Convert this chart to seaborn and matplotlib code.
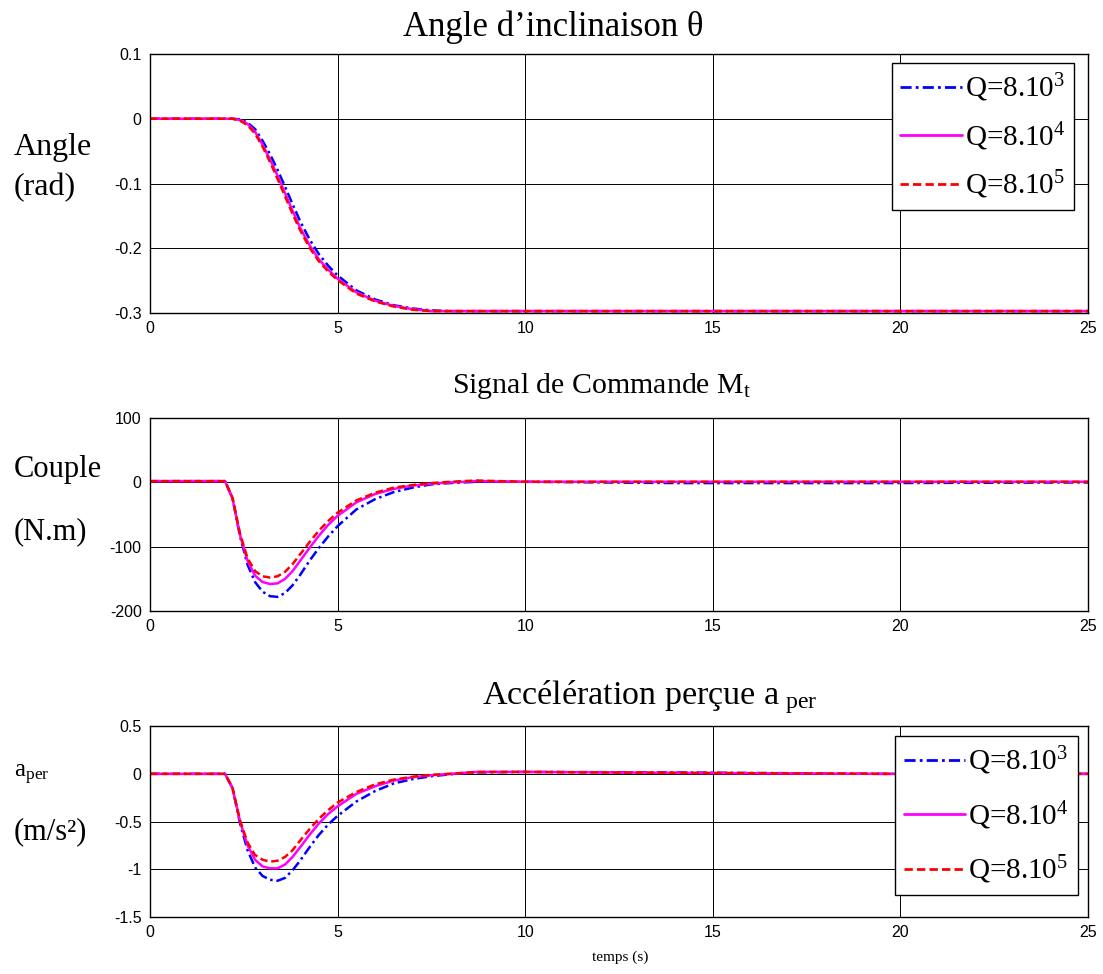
import numpy as np
import pandas as pd
import matplotlib
matplotlib.use("Agg")
import matplotlib.pyplot as plt
import seaborn as sns

# ---------------- data ----------------
t = [0, 2.0, 2.2, 2.4, 2.6, 2.8, 3.0, 3.2, 3.4, 3.6, 3.8, 4.0, 4.25, 4.5, 4.75,
     5.0, 5.5, 6.0, 6.5, 7.0, 7.5, 8.0, 8.7, 10, 14, 19.5, 25]

labels = ["Q=8.10$^{3}$", "Q=8.10$^{4}$", "Q=8.10$^{5}$"]

angle_q3 = [0, 0, 0, -0.001, -0.006, -0.016, -0.034, -0.055, -0.079, -0.105, -0.132, -0.158,
            -0.186, -0.209, -0.227, -0.242, -0.265, -0.279, -0.288, -0.293, -0.296, -0.297,
            -0.297, -0.297, -0.297, -0.297, -0.297]
angle_q4 = [0, 0, 0, -0.002, -0.008, -0.020, -0.040, -0.063, -0.088, -0.115, -0.142, -0.168,
            -0.195, -0.217, -0.233, -0.247, -0.268, -0.281, -0.289, -0.294, -0.297, -0.297,
            -0.297, -0.297, -0.297, -0.297, -0.297]
angle_q5 = [0, 0, 0, -0.003, -0.010, -0.023, -0.043, -0.067, -0.093, -0.120, -0.147, -0.172,
            -0.199, -0.220, -0.236, -0.249, -0.270, -0.282, -0.290, -0.295, -0.297, -0.297,
            -0.297, -0.297, -0.297, -0.297, -0.297]

couple_q3 = [2, 2, -25, -84, -128, -155, -170, -177, -178, -172, -160, -144, -122, -102, -84,
             -68, -42, -26, -15, -8, -3, -1, 1, 1, -1, -1, 0]
couple_q4 = [2, 2, -25, -82, -122, -145, -155, -158, -157, -150, -138, -122, -102, -83, -66,
             -52, -31, -18, -10, -5, -2, 0, 2, 1, 1, 1, 1]
couple_q5 = [2, 2, -24, -80, -118, -138, -146, -148, -146, -139, -127, -112, -93, -75, -60,
             -47, -28, -16, -8, -4, -1, 1, 3, 1, 1, 1, 1]

acc_q3 = [0, 0, -0.15, -0.52, -0.80, -0.98, -1.07, -1.11, -1.12, -1.09, -1.01, -0.91, -0.77,
          -0.64, -0.53, -0.44, -0.29, -0.18, -0.10, -0.055, -0.025, -0.005, 0.015, 0.02,
          0.015, 0, 0]
acc_q4 = [0, 0, -0.15, -0.50, -0.75, -0.90, -0.97, -0.99, -0.99, -0.95, -0.87, -0.77, -0.64,
          -0.52, -0.42, -0.34, -0.21, -0.13, -0.07, -0.035, -0.015, 0.0, 0.02, 0.02, 0.01, 0, 0]
acc_q5 = [0, 0, -0.15, -0.49, -0.72, -0.85, -0.90, -0.92, -0.91, -0.87, -0.80, -0.70, -0.58,
          -0.47, -0.38, -0.30, -0.19, -0.11, -0.06, -0.03, -0.01, 0.0, 0.02, 0.02, 0.01, 0, 0]

x_ticks = [0, 5, 10, 15, 20, 25]
y1_ticks = [-0.3, -0.2, -0.1, 0, 0.1]
y2_ticks = [-200, -100, 0, 100]
y3_ticks = [-1.5, -1, -0.5, 0, 0.5]

# ---------------- style ----------------
sns.set_theme(style="white")
plt.rcParams["font.family"] = ["Liberation Serif", "DejaVu Serif"]
plt.rcParams["mathtext.fontset"] = "custom"
plt.rcParams["mathtext.rm"] = "Liberation Serif"
plt.rcParams["mathtext.it"] = "Liberation Serif:italic"
plt.rcParams["axes.unicode_minus"] = False
plt.rcParams["text.color"] = "black"
plt.rcParams["xtick.color"] = "black"
plt.rcParams["ytick.color"] = "black"
plt.rcParams["axes.labelcolor"] = "black"

palette = {labels[0]: "#0000ff", labels[1]: "#ff00ff", labels[2]: "#ff0000"}
dashes = {labels[0]: (4, 1.5, 1, 1.5), labels[1]: "", labels[2]: (3, 1.5)}


def long_df(series):
    return pd.DataFrame({
        "t": np.tile(t, 3),
        "v": np.concatenate([np.asarray(s, float) for s in series]),
        "Q": np.repeat(labels, len(t)),
    })


fig = plt.figure(figsize=(11.03, 9.74), dpi=100)
ax1 = fig.add_axes([0.136, 0.6786, 0.8504, 0.266])
ax2 = fig.add_axes([0.136, 0.3727, 0.8504, 0.198])
ax3 = fig.add_axes([0.136, 0.0585, 0.8504, 0.196])

panels = [
    (ax1, [angle_q3, angle_q4, angle_q5], y1_ticks, ["-0.3", "-0.2", "-0.1", "0", "0.1"]),
    (ax2, [couple_q3, couple_q4, couple_q5], y2_ticks, ["-200", "-100", "0", "100"]),
    (ax3, [acc_q3, acc_q4, acc_q5], y3_ticks, ["-1.5", "-1", "-0.5", "0", "0.5"]),
]

for ax, series, yt, ytl in panels:
    sns.lineplot(data=long_df(series), x="t", y="v", hue="Q", style="Q",
                 palette=palette, dashes=dashes, linewidth=1.8, ax=ax,
                 estimator=None, sort=False, legend="full")
    ax.set_xlim(0, 25)
    ax.set_ylim(yt[0], yt[-1])
    ax.set_xticks(x_ticks)
    ax.set_xticklabels([str(v) for v in x_ticks], family="Liberation Sans", fontsize=11.5)
    ax.set_yticks(yt)
    ax.set_yticklabels(ytl, family="Liberation Sans", fontsize=11.5)
    ax.set_xlabel("")
    ax.set_ylabel("")
    ax.grid(True, color="black", linewidth=0.7)
    for sp in ax.spines.values():
        sp.set_color("black")
        sp.set_linewidth(1.0)
    ax.tick_params(direction="in", length=4, color="black", pad=6)
    handles, labs = ax.get_legend_handles_labels()
    ax.get_legend().remove()
    if ax is not ax2:
        if ax is ax1:
            top, right, lsp = 0.965, 0.985, 0.55
        else:
            top, right, lsp = 0.948, 0.989, 0.75
        leg = ax.legend(handles, labs, loc="upper right", bbox_to_anchor=(right, top),
                        fontsize=21, frameon=True, fancybox=False, edgecolor="black",
                        framealpha=1, borderpad=0.3, labelspacing=lsp,
                        handlelength=2.1, handletextpad=0.1, borderaxespad=0)
        leg.get_frame().set_linewidth(1.0)
        for h in leg.get_lines():
            h.set_linewidth(2.0)

# titles and labels
fig.text(553 / 1103, 1 - 27 / 974, "Angle d’inclinaison θ", ha="center", va="center", fontsize=25)
fig.text(602 / 1103, 1 - 386 / 974, "Signal de Commande M$_{\\mathrm{t}}$", ha="center",
         va="center", fontsize=21.5)
fig.text(650 / 1103, 1 - 697 / 974, "Accélération perçue a$\\;_{\\mathrm{per}}$", ha="center",
         va="center", fontsize=24.5)

fig.text(14 / 1103, 1 - 148 / 974, "Angle", ha="left", va="center", fontsize=23)
fig.text(14 / 1103, 1 - 188 / 974, "(rad)", ha="left", va="center", fontsize=23)
fig.text(14 / 1103, 1 - 470 / 974, "Couple", ha="left", va="center", fontsize=22)
fig.text(14 / 1103, 1 - 532 / 974, "(N.m)", ha="left", va="center", fontsize=22)
fig.text(14 / 1103, 1 - 775 / 974, "a$_{\\mathrm{per}}$", ha="left", va="center", fontsize=18)
fig.text(14 / 1103, 1 - 832 / 974, "(m/s²)", ha="left", va="center", fontsize=22)
fig.text(620 / 1103, 1 - 957 / 974, "temps (s)", ha="center", va="center", fontsize=11)

fig.savefig("out.png", dpi=100)
